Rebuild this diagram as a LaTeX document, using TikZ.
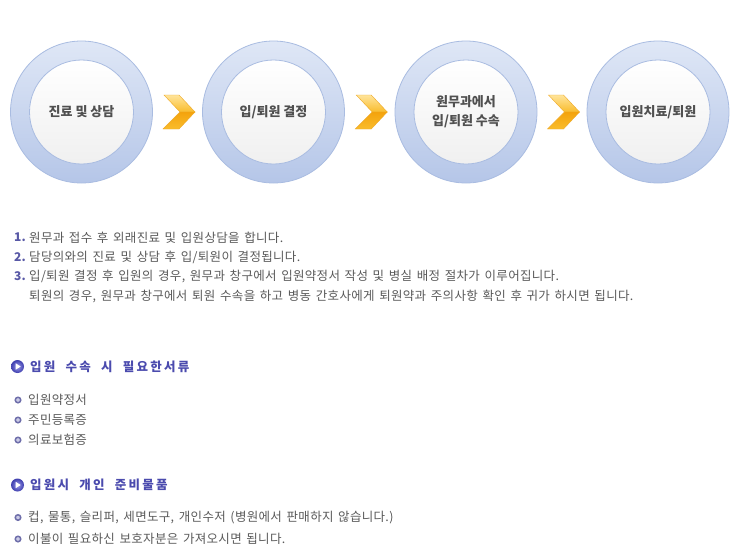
\documentclass[tikz,border=0pt]{standalone}
\usepackage{fontspec}
\setmainfont{Noto Sans CJK KR}
\newfontfamily\kr[LetterSpace=2.5,WordSpace=1.5]{Noto Sans CJK KR}
\newfontfamily\krh[LetterSpace=18,WordSpace=2]{Noto Sans CJK KR}
\usetikzlibrary{calc}
\definecolor{ringtop}{HTML}{DFE7F6}
\definecolor{ringbot}{HTML}{B5C6E8}
\definecolor{ringedge}{HTML}{A9BCE1}
\definecolor{circtext}{HTML}{505050}
\definecolor{txtgray}{HTML}{5A5A5A}
\definecolor{hdr}{HTML}{4B4BAE}
\definecolor{num}{HTML}{5858A6}
\definecolor{arrlt}{HTML}{FFE49A}
\definecolor{arrmid}{HTML}{F9BC2C}
\definecolor{arrdk}{HTML}{F4A30C}
\definecolor{arredge}{HTML}{EFA824}
\definecolor{bulring}{HTML}{6E6EAA}
\definecolor{bulfill}{HTML}{CBCBE6}
\definecolor{icolt}{HTML}{9A9AEA}
\definecolor{icodk}{HTML}{3E3EAE}
\tikzset{
  ringnode/.style={circle, minimum size=142pt, inner sep=0pt, draw=ringedge, line width=0.8pt, top color=ringtop, bottom color=ringbot},
  disc/.style={circle, minimum size=104pt, inner sep=0pt, draw=ringedge, line width=0.8pt, top color=white, bottom color=black!6, font=\bfseries\fontsize{13}{19}\selectfont, text=circtext, align=center},
  body/.style={anchor=west, inner sep=0pt, font=\kr\fontsize{12.5}{14}\selectfont, text=txtgray},
  numtxt/.style={anchor=west, inner sep=0pt, font=\bfseries\fontsize{12}{14}\selectfont, text=num},
  hdrtxt/.style={anchor=west, inner sep=0pt, font=\krh\bfseries\fontsize{12.5}{14}\selectfont, text=hdr},
  hdricon/.style={circle, minimum size=13pt, inner sep=0pt, inner color=icolt, outer color=icodk},
  bullet/.style={circle, minimum size=5.5pt, inner sep=0pt, draw=bulring, line width=1.5pt, fill=bulfill},
  armtop/.style={top color=arrlt, bottom color=arrmid, draw=arredge, line width=0.4pt},
  armbot/.style={top color=arrdk, bottom color=arrmid, draw=arredge, line width=0.4pt}
}
\newcommand\chevronat[1]{%
  \begin{scope}[shift={(#1)}]
    \path[armtop] (-14,-17) -- (1,-17) -- (17,0) -- (2,0) -- cycle;
    \path[armbot] (2,0) -- (17,0) -- (1,17) -- (-15,17) -- cycle;
  \end{scope}}
\newcommand\hdrmark[1]{%
  \begin{scope}[shift={(#1)}]
    \fill[white] (-1.8,-3.2) -- (3.2,0) -- (-1.8,3.2) -- cycle;
  \end{scope}}
\begin{document}
\begin{tikzpicture}[x=1pt,y=-1pt]
\fill[white] (0,0) rectangle (740,555);
\useasboundingbox (0,0) rectangle (740,555);

% circles
\node[ringnode] (r1) at (81.5,112) {};
\node[ringnode] (r2) at (273.5,112) {};
\node[ringnode] (r3) at (466,112) {};
\node[ringnode] (r4) at (658,112) {};
\node[disc] (c1) at (r1) {진료 및 상담};
\node[disc] (c2) at (r2) {입/퇴원 결정};
\node[disc] (c3) at (r3) {원무과에서\\입/퇴원 수속};
\node[disc] (c4) at (r4) {입원치료/퇴원};

% chevrons
\coordinate (a1) at ($(r1.east)!0.5!(r2.west)+(0.5,0)$);
\coordinate (a2) at ($(r2.east)!0.5!(r3.west)+(0.5,0)$);
\coordinate (a3) at ($(r3.east)!0.5!(r4.west)+(0.5,0)$);
\chevronat{a1}
\chevronat{a2}
\chevronat{a3}

% numbered text
\node[numtxt] (n1) at (14,237.5) {1.};
\node[body] (l1) at (29,237.5) {원무과 접수 후 외래진료 및 입원상담을 합니다.};
\node[numtxt] (n2) at (14,257) {2.};
\node[body] (l2) at (29,257) {담당의와의 진료 및 상담 후 입/퇴원이 결정됩니다.};
\node[numtxt] (n3) at (14,276.5) {3.};
\node[body] (l3) at (29,276.5) {입/퇴원 결정 후 입원의 경우, 원무과 창구에서 입원약정서 작성 및 병실 배정 절차가 이루어집니다.};
\node[body] (l4) at (29,296) {퇴원의 경우, 원무과 창구에서 퇴원 수속을 하고 병동 간호사에게 퇴원약과 주의사항 확인 후 귀가 하시면 됩니다.};

% section 1
\node[hdricon] (i1) at (17.5,366.5) {};
\hdrmark{i1}
\node[hdrtxt] (h1) at (30,366.5) {입원 수속 시 필요한서류};
\node[bullet] (b1) at (18,400) {};
\node[body] (s1) at (28,400) {입원약정서};
\node[bullet] (b2) at (18,420) {};
\node[body] (s2) at (28,420) {주민등록증};
\node[bullet] (b3) at (18,440) {};
\node[body] (s3) at (28,440) {의료보험증};

% section 2
\node[hdricon] (i2) at (17.5,485) {};
\hdrmark{i2}
\node[hdrtxt] (h2) at (30,485) {입원시 개인 준비물품};
\node[bullet] (b4) at (18,517.5) {};
\node[body] (s4) at (28,517.5) {컵, 물통, 슬리퍼, 세면도구, 개인수저 (병원에서 판매하지 않습니다.)};
\node[bullet] (b5) at (18,539) {};
\node[body] (s5) at (28,539) {이불이 필요하신 보호자분은 가져오시면 됩니다.};
\end{tikzpicture}
\end{document}
